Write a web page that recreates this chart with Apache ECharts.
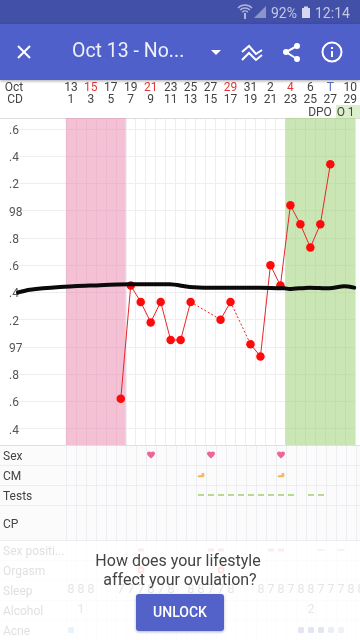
<!DOCTYPE html>
<html lang="en">

<head>
  <meta charset="UTF-8">
  <meta name="viewport" content="width=device-width,user-scalable=no, initial-scale=1.0">
  <title>Oct 13 - Nov chart</title>
  <script src="https://cdn.jsdelivr.net/npm/echarts@6/dist/echarts.min.js"></script>
  <style>
    html, body { margin: 0; padding: 0; background: #fff; }
    #main { width: 360px; height: 640px; }
  </style>
</head>

<body>
  <div id="main"></div>
  <script>
    // temperature by cycle day, missing days stay out
    var tempDays = [6, 7, 8, 9, 10, 11, 12, 13, 16, 17, 19, 20, 21, 22, 23, 24, 25, 26, 27];
    var tempValues = [96.62, 97.45, 97.33, 97.18, 97.33, 97.05, 97.05, 97.33, 97.2, 97.33, 97.02, 96.93, 97.6, 97.45, 98.04, 97.9, 97.73, 97.9, 98.34];
    // hand drawn black line
    var coverDays = [-4.3, -3.1, -0.1, 2.9, 6.9, 10.9, 12.9, 14.9, 19.9, 22.4, 22.9, 24.9, 26.9, 28.4, 29.4];
    var coverValues = [97.4, 97.42, 97.44, 97.45, 97.46, 97.46, 97.44, 97.435, 97.435, 97.43, 97.425, 97.435, 97.43, 97.445, 97.435];
    var yTickValues = [98.6, 98.4, 98.2, 98, 97.8, 97.6, 97.4, 97.2, 97, 96.8, 96.6, 96.4];
    var yTickLabels = ['.6', '.4', '.2', '98', '.8', '.6', '.4', '.2', '97', '.8', '.6', '.4'];
    var dateLabels = ['13', '15', '17', '19', '21', '23', '25', '27', '29', '31', '2', '4', '6', 'T', '10'];
    var cycleLabels = ['1', '3', '5', '7', '9', '11', '13', '15', '17', '19', '21', '23', '25', '27', '29'];
    var redDates = ['15', '21', '29', '4'];
    var rowNames = ['Sex', 'CM', 'Tests', 'CP', 'Sex positi...', 'Orgasm', 'Sleep', 'Alcohol', 'Acne'];
    var rowEdges = [0, 1, 2, 3, 4.75, 5.75, 6.75, 7.75, 8.75, 9.75];
    var sexDays = [9, 15, 22];
    var cmDays = [14, 22];
    var testDays = [14, 15, 16, 17, 18, 19, 20, 21, 22, 23, 25, 26];
    var positionDays = [8, 15, 16, 21, 22];
    var positionDotDays = [26, 28];
    var orgasmDays = [8, 16];
    var sleepDays = [1, 2, 3, 6, 7, 8, 9, 10, 11, 13, 14, 15, 16, 17, 20, 21, 22, 23, 24, 25, 26, 27, 28, 29, 30];
    var sleepHours = [8, 8, 8, 7, 7, 7, 8, 7, 8, 8, 8, 7, 7, 8, 8, 7, 8, 7, 8, 8, 7, 7, 7, 8, 8];
    var alcoholDays = [2, 25];
    var alcoholUnits = [1, 2];
    var acneDays = [1, 24, 25, 26, 27, 28];
    var acneColors = ['#5f9fc8', '#2a3fb0', '#2a3fb0', '#2a3fb0', '#6f80c8', '#80a0c8'];
    var cellEdges = [];
    for (var e = 0; e <= 29; e++) cellEdges.push(e);

    // x axis runs over cell edges, a day sits in the middle of its cell
    function pos(day) { return day - 0.5; }
    function rowMiddle(i) { return (rowEdges[i] + rowEdges[i + 1]) / 2; }
    function rowPoints(days, i) {
      return days.map(function (d) { return [pos(d), rowMiddle(i)]; });
    }

    // solid where days follow each other, dotted over the missing days
    var solidData = [];
    var dottedData = [];
    tempDays.forEach(function (d, i) {
      if (i > 0 && d - tempDays[i - 1] > 1) {
        solidData.push([pos(d - 0.5), null]);
        dottedData.push([pos(tempDays[i - 1]), tempValues[i - 1]], [pos(d), tempValues[i]], [pos(d), null]);
      }
      solidData.push([pos(d), tempValues[i]]);
    });

    var heart = 'path://M12 21.35l-1.45-1.32C5.4 15.36 2 12.28 2 8.5 2 5.42 4.42 3 7.5 3c1.74 0 3.41.81 4.5 2.09C13.09 3.81 14.76 3 16.5 3 19.58 3 22 5.42 22 8.5c0 3.78-3.4 6.86-8.55 11.54L12 21.35z';
    var blob = 'path://M0 5Q0 3 3 3L5 3Q5 0 7 0Q9 0 9 3Q9 6 7 6L1 6Q0 6 0 5z';
    var gridColor = '#eeeef2';
    var fontName = 'Roboto';

    function stroke(points) {
      return { type: 'polyline', z: 101, shape: { points: points }, style: { stroke: '#fff', lineWidth: 2, fill: null } };
    }
    function dot(x, y, r) {
      return { type: 'circle', z: 101, shape: { cx: x, cy: y, r: r }, style: { fill: '#fff' } };
    }
    function wifiArc(r) {
      return { type: 'arc', z: 101, shape: { cx: 245, cy: 15, r: r, startAngle: -Math.PI * 0.75, endAngle: -Math.PI * 0.25 }, style: { stroke: '#aeb4da', lineWidth: 1.3, fill: null } };
    }
    function label(x, y, text, fill, font, align) {
      return { type: 'text', z: 101, style: { x: x, y: y + 1, text: text, fill: fill, font: font, textAlign: align || 'left', textVerticalAlign: 'middle' } };
    }

    var myChart = echarts.init(document.getElementById('main'), null, { renderer: 'canvas' });

    var option = {
      animation: false,
      backgroundColor: '#fff',
      textStyle: { fontFamily: fontName },
      grid: [
        { left: 16, top: 118, width: 340, height: 327 },
        { left: 0, top: 445, width: 360, height: 195, show: true, backgroundColor: '#fbfbfb', borderWidth: 0 }
      ],
      xAxis: [
        {
          gridIndex: 0, type: 'value', min: -5, max: 29,
          axisLine: { show: false }, axisLabel: { show: false },
          axisTick: { show: false, customValues: cellEdges },
          splitLine: { show: true, lineStyle: { color: gridColor, width: 1 } }
        },
        {
          gridIndex: 0, type: 'value', position: 'top', min: -5, max: 29,
          axisLine: { show: false }, axisTick: { show: false }, splitLine: { show: false },
          axisLabel: {
            show: true, margin: 12, hideOverlap: false,
            customValues: cycleLabels.map(function (c, i) { return i * 2 + 0.5; }),
            formatter: function (v) {
              var i = Math.round((v - 0.5) / 2);
              var d = dateLabels[i];
              var key = redDates.indexOf(d) >= 0 ? 'red' : (d === 'T' ? 'blue' : 'plain');
              return '{' + key + '|' + d + '}\n{plain|' + cycleLabels[i] + '}';
            },
            rich: {
              plain: { color: '#444', fontSize: 12, lineHeight: 12, fontFamily: fontName },
              red: { color: '#e53935', fontSize: 12, lineHeight: 12, fontFamily: fontName },
              blue: { color: '#5c6bc0', fontSize: 12, lineHeight: 12, fontFamily: fontName }
            }
          }
        },
        {
          gridIndex: 1, type: 'value', min: -6.6, max: 29.4,
          axisLine: { show: false }, axisLabel: { show: false },
          axisTick: { show: false, customValues: cellEdges },
          splitLine: { show: true, lineStyle: { color: gridColor, width: 1 } }
        }
      ],
      yAxis: [
        {
          gridIndex: 0, type: 'value', min: 96.28, max: 98.68,
          axisLine: { show: false },
          axisTick: { show: false, customValues: yTickValues },
          splitLine: { show: true, lineStyle: { color: gridColor, width: 1 } },
          axisLabel: {
            show: true, align: 'left', margin: 7, hideOverlap: false,
            customValues: yTickValues,
            formatter: function (v) { return '{a|' + yTickLabels[yTickValues.indexOf(v)] + '}'; },
            rich: { a: { color: '#555', fontSize: 12, fontFamily: fontName, padding: [4, 0, 0, 0] } }
          }
        },
        {
          gridIndex: 1, type: 'value', inverse: true, min: 0, max: 9.75,
          axisLine: { show: false },
          axisTick: { show: false, customValues: rowEdges },
          splitLine: { show: true, lineStyle: { color: gridColor, width: 1 } },
          axisLabel: {
            show: true, align: 'left', margin: -3, hideOverlap: false,
            customValues: rowNames.map(function (n, i) { return rowMiddle(i); }),
            formatter: function (v) {
              for (var i = 0; i < rowNames.length; i++) {
                if (rowMiddle(i) === v) return '{a|' + rowNames[i] + '}';
              }
              return '';
            },
            rich: { a: { color: '#444', fontSize: 12, fontFamily: fontName, padding: [4, 0, 0, 0] } }
          }
        }
      ],
      series: [
        {
          name: 'bands', type: 'line', xAxisIndex: 0, yAxisIndex: 0, data: [], silent: true,
          markArea: {
            silent: true,
            data: [
              [{ xAxis: 0, itemStyle: { color: 'rgba(233,130,170,0.5)' } }, { xAxis: 6 }],
              [{ xAxis: 22, itemStyle: { color: 'rgba(150,205,105,0.5)' } }, { xAxis: 29 }]
            ]
          }
        },
        {
          name: 'temp gaps', type: 'line', xAxisIndex: 0, yAxisIndex: 0, data: dottedData, z: 3,
          showSymbol: false, connectNulls: false,
          lineStyle: { color: '#e8262a', width: 1, type: [2, 2] }
        },
        {
          name: 'temp', type: 'line', xAxisIndex: 0, yAxisIndex: 0, data: solidData, z: 4,
          symbol: 'circle', symbolSize: 8.5, showAllSymbol: true, connectNulls: false,
          itemStyle: { color: '#ff0a0a' },
          lineStyle: { color: '#e8262a', width: 1 }
        },
        {
          name: 'cover', type: 'line', xAxisIndex: 0, yAxisIndex: 0, z: 5, smooth: 0.3,
          data: coverDays.map(function (d, i) { return [pos(d), coverValues[i]]; }),
          showSymbol: false,
          lineStyle: { color: '#0a0a0a', width: 4, cap: 'round' }
        },
        {
          name: 'sex', type: 'scatter', xAxisIndex: 2, yAxisIndex: 1, data: rowPoints(sexDays, 0),
          symbol: heart, symbolSize: [8, 7], itemStyle: { color: '#e8417f' }
        },
        {
          name: 'cm', type: 'scatter', xAxisIndex: 2, yAxisIndex: 1, data: rowPoints(cmDays, 1),
          symbol: blob, symbolSize: [7, 4.5], itemStyle: { color: '#f7a540' }
        },
        {
          name: 'tests', type: 'scatter', xAxisIndex: 2, yAxisIndex: 1, data: rowPoints(testDays, 2),
          symbol: 'rect', symbolSize: [6, 1.5], itemStyle: { color: '#8bc34a' }
        },
        {
          name: 'position', type: 'scatter', xAxisIndex: 2, yAxisIndex: 1, data: rowPoints(positionDays, 4),
          symbol: 'rect', symbolSize: [6, 3], itemStyle: { color: '#e57373' }
        },
        {
          name: 'position dots', type: 'scatter', xAxisIndex: 2, yAxisIndex: 1, data: rowPoints(positionDotDays, 4),
          symbol: 'rect', symbolSize: [7, 1.5], itemStyle: { color: '#c08080' }
        },
        {
          name: 'orgasm', type: 'scatter', xAxisIndex: 2, yAxisIndex: 1, data: rowPoints(orgasmDays, 5),
          symbol: 'emptyCircle', symbolSize: 5, itemStyle: { color: '#e53935', borderWidth: 1 }
        },
        {
          name: 'sleep', type: 'scatter', xAxisIndex: 2, yAxisIndex: 1, clip: false,
          data: sleepDays.map(function (d, i) { return [pos(d), rowMiddle(6), sleepHours[i]]; }),
          symbolSize: 0,
          label: {
            show: true, position: 'inside', color: '#444', fontSize: 13, fontFamily: fontName,
            formatter: function (p) { return p.value[2]; }
          },
          labelLayout: { hideOverlap: false }
        },
        {
          name: 'alcohol', type: 'scatter', xAxisIndex: 2, yAxisIndex: 1,
          data: alcoholDays.map(function (d, i) { return [pos(d), rowMiddle(7), alcoholUnits[i]]; }),
          symbolSize: 0,
          label: {
            show: true, position: 'inside', color: '#444', fontSize: 13, fontFamily: fontName,
            formatter: function (p) { return p.value[2]; }
          }
        },
        {
          name: 'acne', type: 'scatter', xAxisIndex: 2, yAxisIndex: 1,
          data: acneDays.map(function (d, i) {
            return { value: [pos(d), rowMiddle(8)], itemStyle: { color: acneColors[i] } };
          }),
          symbol: 'roundRect', symbolSize: 6
        }
      ],
      graphic: [
        // app bars
        { type: 'rect', z: 100, shape: { x: 0, y: 0, width: 360, height: 24 }, style: { fill: '#4350a8' } },
        { type: 'rect', z: 100, shape: { x: 0, y: 24, width: 360, height: 56 }, style: { fill: '#5060cb', shadowBlur: 3, shadowColor: 'rgba(0,0,0,0.35)', shadowOffsetY: 1 } },
        // wifi, signal, battery
        wifiArc(10), wifiArc(7), wifiArc(4),
        { type: 'rect', z: 101, shape: { x: 244, y: 13, width: 2, height: 6 }, style: { fill: '#aeb4da' } },
        { type: 'polygon', z: 101, shape: { points: [[254, 18], [266, 18], [266, 6]] }, style: { fill: '#8d95c8' } },
        label(271, 13, '92%', '#c3c8e6', '14px Roboto'),
        { type: 'rect', z: 101, shape: { x: 302, y: 8, width: 8, height: 10 }, style: { fill: '#d5d8ee' } },
        { type: 'rect', z: 101, shape: { x: 304, y: 6.5, width: 4, height: 2 }, style: { fill: '#d5d8ee' } },
        label(315, 13, '12:14', '#c3c8e6', '14px Roboto'),
        // toolbar
        stroke([[18, 46], [30, 58]]),
        stroke([[30, 46], [18, 58]]),
        label(72, 51, 'Oct 13 - No...', '#eef0fa', '19.5px Roboto'),
        { type: 'polygon', z: 101, shape: { points: [[211, 50], [221, 50], [216, 55]] }, style: { fill: '#fff' } },
        stroke([[242, 52], [249, 46], [256, 54], [262, 50]]),
        stroke([[242, 60], [249, 53], [256, 60], [262, 55]]),
        stroke([[297, 46], [286, 52], [297, 59]]),
        dot(297, 46, 3), dot(286, 52, 3), dot(297, 59, 3),
        { type: 'circle', z: 101, shape: { cx: 332, cy: 52, r: 9.5 }, style: { stroke: '#fff', lineWidth: 2, fill: null } },
        { type: 'rect', z: 101, shape: { x: 331, y: 51, width: 2, height: 6 }, style: { fill: '#fff' } },
        { type: 'rect', z: 101, shape: { x: 331, y: 47, width: 2, height: 2 }, style: { fill: '#fff' } },
        // header row
        label(14, 87, 'Oct', '#444', '12px Roboto', 'center'),
        label(15, 99, 'CD', '#444', '12px Roboto', 'center'),
        { type: 'rect', z: 1, shape: { x: 336, y: 105, width: 24, height: 13 }, style: { fill: '#dcefcc' } },
        label(320, 112, 'DPO', '#444', '12px Roboto', 'center'),
        label(341, 112, 'O', '#444', '12px Roboto', 'center'),
        label(351, 112, '1', '#444', '12px Roboto', 'center'),
        { type: 'rect', z: 1, shape: { x: 0, y: 118, width: 360, height: 1 }, style: { fill: '#dcdcdc' } },
        { type: 'rect', z: 6, shape: { x: 0, y: 445, width: 360, height: 1 }, style: { fill: '#e0e0e0' } },
        // fade over the locked rows
        { type: 'rect', z: 100, shape: { x: 0, y: 541, width: 360, height: 99 }, style: { fill: 'rgba(255,255,255,0.83)' } },
        label(178, 561, 'How does your lifestyle', '#444', '16px Roboto', 'center'),
        label(180, 580, 'affect your ovulation?', '#444', '16px Roboto', 'center'),
        { type: 'rect', z: 101, shape: { x: 136, y: 594, width: 88, height: 37, r: 3 }, style: { fill: '#5362c8', shadowBlur: 3, shadowColor: 'rgba(0,0,0,0.3)', shadowOffsetY: 1 } },
        { type: 'text', z: 102, style: { x: 180, y: 613.5, text: 'UNLOCK', fill: '#fff', font: '500 14px Roboto', textAlign: 'center', textVerticalAlign: 'middle' } }
      ]
    };

    myChart.setOption(option);
  </script>
</body>

</html>
